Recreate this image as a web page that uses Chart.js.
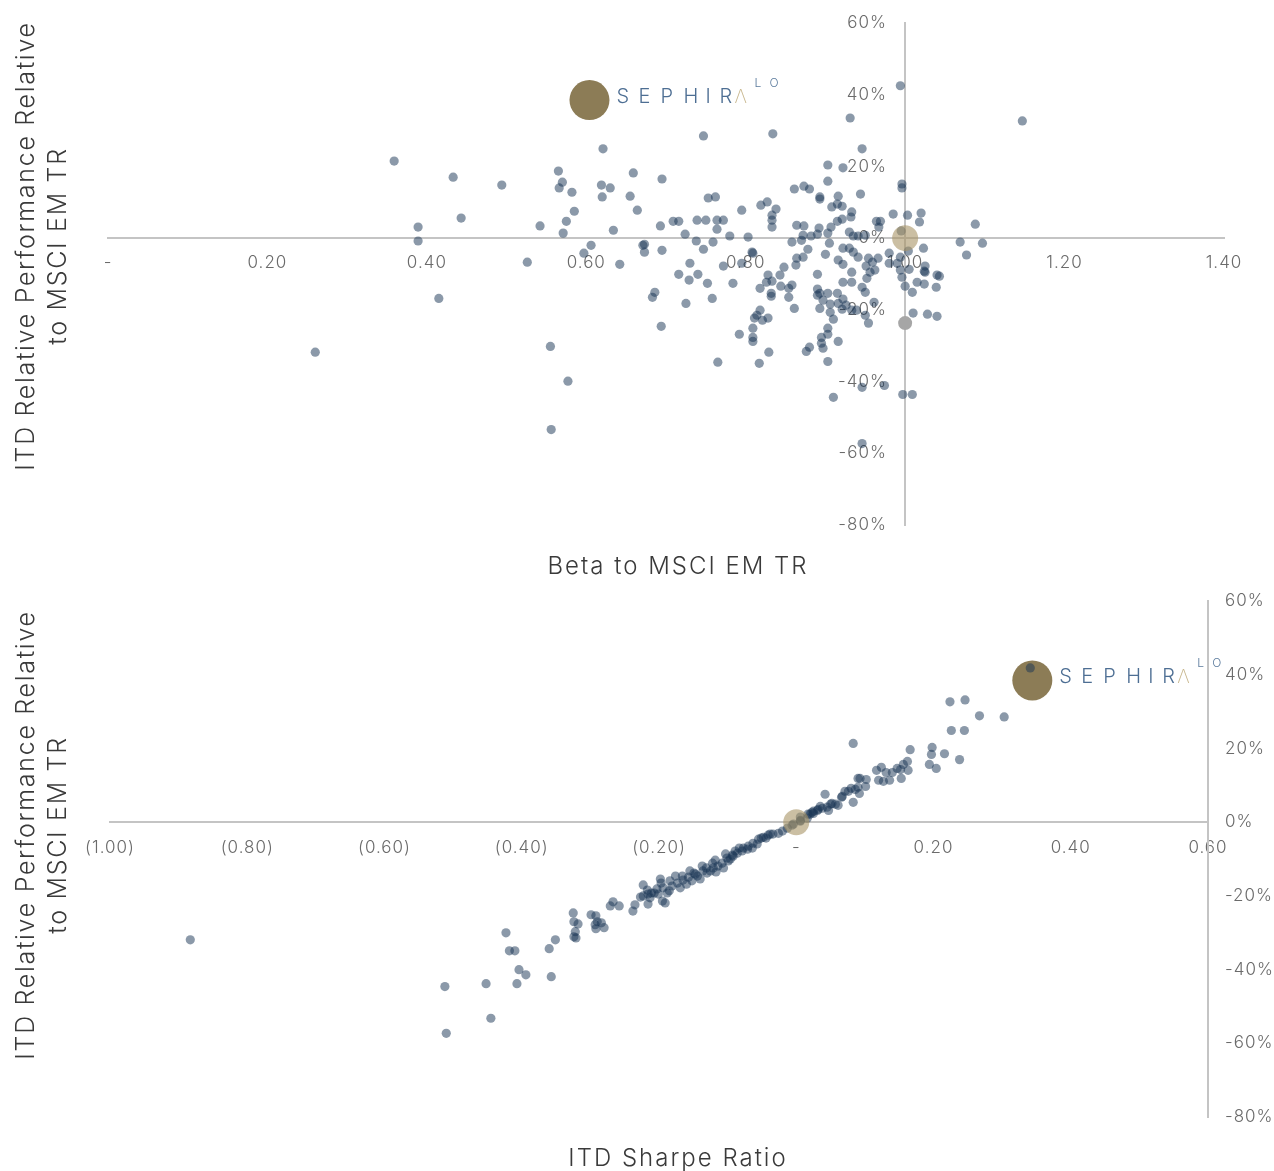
<!DOCTYPE html>
<html>
<head>
<meta charset="utf-8">
<script src="https://cdn.jsdelivr.net/npm/chart.js@4/dist/chart.umd.min.js"></script>
<style>
html,body{margin:0;padding:0;background:#fff;}
#wrap{position:relative;width:1274px;height:1171px;overflow:hidden;font-family:Inter,'Open Sans',sans-serif;}
canvas{position:absolute;left:0;}
#c1{top:0;}
#c2{top:574px;}
.ytitle{position:absolute;left:-259px;width:600px;height:64px;text-align:center;font-size:25px;line-height:32px;color:#3a3a3a;font-weight:300;transform:rotate(-90deg);white-space:nowrap;letter-spacing:1.7px;}
.xtitle{position:absolute;left:378px;width:600px;text-align:center;font-size:24px;line-height:30px;color:#3a3a3a;font-weight:300;white-space:nowrap;letter-spacing:2px;}
</style>
</head>
<body>
<div id="wrap">
<canvas id="c1" width="1274" height="590"></canvas>
<canvas id="c2" width="1274" height="597"></canvas>
<div class="ytitle" style="top:214px">ITD Relative Performance Relative<br>to MSCI EM TR</div>
<div class="xtitle" style="top:551px">Beta to MSCI EM TR</div>
<div class="ytitle" style="top:803px">ITD Relative Performance Relative<br>to MSCI EM TR</div>
<div class="xtitle" style="top:1143px">ITD Sharpe Ratio</div>
</div>
<script>
// ---------- DATA ----------
const betaTickLabels = ['-', '0.20', '0.40', '0.60', '0.80', '1.00', '1.20', '1.40'];
const sharpeTickLabels = ['(1.00)', '(0.80)', '(0.60)', '(0.40)', '(0.20)', '-', '0.20', '0.40', '0.60'];
const relPerfTickLabels = ['-80%', '-60%', '-40%', '-20%', '0%', '20%', '40%', '60%'];

// Peer funds: [beta to MSCI EM TR, ITD relative performance]
const peerBetaVsRel = [
[0.359,0.215],[0.433,0.170],[0.389,0.031],[0.389,-0.008],[0.443,0.056],[0.494,0.148],[0.526,-0.067],[0.542,0.034],[0.415,-0.168],[0.260,-0.318],
[0.555,-0.302],[0.577,-0.399],[0.556,-0.534],[0.565,0.187],[0.570,0.156],[0.566,0.140],[0.582,0.128],[0.585,0.075],[0.575,0.047],[0.571,0.014],
[0.597,-0.042],[0.606,-0.020],[0.621,0.249],[0.619,0.148],[0.630,0.140],[0.620,0.115],[0.634,0.022],[0.642,-0.073],[0.659,0.182],[0.655,0.117],
[0.664,0.078],[0.671,-0.020],[0.673,-0.039],[0.673,-0.017],[0.695,0.165],[0.693,0.034],[0.695,-0.034],[0.686,-0.151],[0.683,-0.165],[0.694,-0.246],
[0.709,0.047],[0.716,0.047],[0.724,0.011],[0.716,-0.101],[0.730,-0.070],[0.729,-0.117],[0.725,-0.182],[0.739,0.050],[0.750,0.050],[0.738,-0.008],
[0.747,-0.031],[0.747,0.285],[0.753,0.112],[0.762,0.115],[0.759,-0.011],[0.764,0.050],[0.772,0.050],[0.764,0.025],[0.740,-0.101],[0.752,-0.126],
[0.758,-0.168],[0.765,-0.346],[0.772,-0.078],[0.780,0.006],[0.803,0.003],[0.795,0.078],[0.784,-0.126],[0.795,-0.070],[0.808,-0.039],[0.809,-0.042],
[0.792,-0.268],[0.834,0.291],[0.819,0.092],[0.827,0.101],[0.838,0.081],[0.833,0.064],[0.833,0.050],[0.833,0.031],[0.861,0.137],[0.873,0.145],
[0.880,0.137],[0.864,0.036],[0.873,0.034],[0.892,0.028],[0.890,0.011],[0.882,0.006],[0.872,0.008],[0.870,-0.006],[0.858,-0.011],[0.878,-0.031],
[0.893,0.115],[0.893,0.109],[0.903,0.204],[0.922,0.196],[0.903,0.159],[0.916,0.117],[0.908,0.087],[0.915,0.095],[0.921,0.089],[0.933,0.073],
[0.932,0.059],[0.931,0.335],[0.946,0.249],[0.944,0.123],[0.907,0.031],[0.903,0.014],[0.915,0.047],[0.921,0.053],[0.930,0.017],[0.935,0.006],
[0.941,0.006],[0.950,0.008],[0.964,0.047],[0.969,0.047],[0.967,0.031],[0.985,0.067],[1.003,0.064],[1.020,0.070],[1.018,0.045],[0.995,0.020],
[0.996,0.151],[0.996,0.140],[0.994,0.425],[0.905,-0.014],[0.922,-0.028],[0.930,-0.028],[0.935,-0.039],[0.900,-0.045],[0.863,-0.075],[0.864,-0.056],
[0.872,-0.053],[0.890,-0.101],[0.916,-0.061],[0.922,-0.073],[0.933,-0.095],[0.941,-0.053],[0.951,-0.078],[0.954,-0.056],[0.959,-0.067],[0.966,-0.056],
[0.956,-0.095],[0.962,-0.089],[0.933,-0.123],[0.922,-0.123],[0.952,-0.112],[0.980,-0.042],[0.994,-0.053],[1.004,-0.036],[0.980,-0.070],[0.990,-0.070],
[1.023,-0.028],[1.005,-0.087],[1.025,-0.078],[1.024,-0.092],[0.996,-0.109],[0.994,-0.089],[1.040,-0.103],[1.043,-0.106],[1.069,-0.011],[1.088,0.039],
[1.097,-0.014],[1.077,-0.047],[1.147,0.327],[0.828,-0.103],[0.833,-0.120],[0.826,-0.123],[0.818,-0.140],[0.832,-0.154],[0.832,-0.162],[0.843,-0.103],
[0.848,-0.081],[0.844,-0.134],[0.854,-0.140],[0.858,-0.131],[0.854,-0.165],[0.861,-0.196],[0.818,-0.201],[0.814,-0.215],[0.811,-0.223],[0.821,-0.229],
[0.828,-0.223],[0.809,-0.251],[0.809,-0.277],[0.809,-0.288],[0.817,-0.349],[0.829,-0.318],[0.890,-0.142],[0.890,-0.159],[0.893,-0.154],[0.897,-0.173],
[0.893,-0.196],[0.903,-0.154],[0.906,-0.184],[0.906,-0.207],[0.910,-0.226],[0.915,-0.154],[0.916,-0.182],[0.922,-0.170],[0.921,-0.198],[0.926,-0.187],
[0.903,-0.251],[0.903,-0.268],[0.895,-0.277],[0.895,-0.293],[0.897,-0.307],[0.880,-0.304],[0.876,-0.316],[0.903,-0.344],[0.916,-0.288],[0.933,-0.201],
[0.939,-0.201],[0.950,-0.215],[0.954,-0.237],[0.961,-0.179],[0.946,-0.137],[0.950,-0.151],[1.000,-0.134],[1.009,-0.151],[1.015,-0.123],[1.024,-0.128],
[1.025,-0.095],[1.039,-0.137],[1.010,-0.209],[1.028,-0.212],[1.040,-0.218],[0.946,-0.416],[0.974,-0.411],[0.997,-0.436],[1.009,-0.436],[0.910,-0.444],
[0.946,-0.573]
];

// Peer funds: [ITD Sharpe ratio, ITD relative performance]
const peerSharpeVsRel = [
[-0.883,-0.319],[-0.512,-0.446],[-0.510,-0.573],[-0.452,-0.438],[-0.445,-0.532],[-0.423,-0.300],[-0.418,-0.349],[-0.410,-0.349],[-0.404,-0.400],[-0.394,-0.414],
[-0.407,-0.438],[-0.360,-0.343],[-0.351,-0.319],[-0.357,-0.419],[-0.325,-0.246],[-0.324,-0.270],[-0.318,-0.276],[-0.322,-0.297],[-0.324,-0.311],[-0.321,-0.314],
[-0.299,-0.251],[-0.292,-0.254],[-0.293,-0.278],[-0.290,-0.270],[-0.284,-0.273],[-0.292,-0.289],[-0.280,-0.286],[-0.271,-0.227],[-0.267,-0.216],[-0.258,-0.227],
[-0.238,-0.241],[-0.235,-0.224],[-0.227,-0.203],[-0.223,-0.170],[-0.216,-0.195],[-0.216,-0.222],[-0.217,-0.184],[-0.213,-0.205],[-0.207,-0.192],[-0.201,-0.195],
[-0.195,-0.214],[-0.191,-0.219],[-0.198,-0.154],[-0.197,-0.165],[-0.203,-0.181],[-0.184,-0.159],[-0.185,-0.186],[-0.176,-0.146],[-0.173,-0.165],[-0.169,-0.178],
[-0.165,-0.157],[-0.157,-0.149],[-0.155,-0.132],[-0.149,-0.138],[-0.144,-0.146],[-0.137,-0.119],[-0.136,-0.132],[-0.140,-0.154],[-0.125,-0.132],[-0.118,-0.103],
[-0.121,-0.124],[-0.114,-0.119],[-0.108,-0.111],[-0.106,-0.124],[-0.101,-0.097],[-0.099,-0.105],[-0.093,-0.089],[-0.089,-0.078],[-0.083,-0.070],[-0.077,-0.070],
[-0.071,-0.073],[-0.063,-0.057],[-0.055,-0.046],[-0.048,-0.041],[-0.041,-0.035],[-0.034,-0.032],[-0.026,-0.030],[-0.013,-0.016],[-0.004,-0.005],[0.006,0.005],
[0.016,0.011],[0.025,0.030],[-0.223,-0.200],[-0.211,-0.192],[-0.194,-0.178],[-0.188,-0.192],[-0.181,-0.173],[-0.166,-0.146],[-0.160,-0.168],[-0.152,-0.159],
[-0.147,-0.141],[-0.131,-0.124],[-0.130,-0.138],[-0.122,-0.111],[-0.117,-0.135],[-0.103,-0.086],[-0.096,-0.100],[-0.092,-0.092],[-0.086,-0.084],[-0.079,-0.078],
[-0.070,-0.065],[-0.064,-0.070],[-0.057,-0.059],[-0.051,-0.043],[-0.044,-0.043],[-0.038,-0.032],[-0.020,-0.024],[-0.006,-0.008],[0.006,0.003],[0.020,0.022],
[0.032,0.035],[0.224,0.327],[0.246,0.332],[0.267,0.289],[0.303,0.286],[0.226,0.249],[0.245,0.249],[0.198,0.203],[0.197,0.184],[0.216,0.186],
[0.238,0.170],[0.166,0.197],[0.194,0.157],[0.204,0.146],[0.162,0.165],[0.163,0.141],[0.156,0.157],[0.152,0.143],[0.153,0.119],[0.147,0.146],
[0.140,0.135],[0.131,0.135],[0.124,0.149],[0.117,0.141],[0.120,0.114],[0.127,0.111],[0.136,0.114],[0.083,0.214],[0.090,0.119],[0.093,0.119],
[0.102,0.116],[0.101,0.097],[0.090,0.095],[0.092,0.078],[0.083,0.054],[0.080,0.092],[0.071,0.084],[0.066,0.068],[0.042,0.076],[0.057,0.049],
[0.050,0.049],[0.045,0.041],[0.038,0.038],[0.031,0.032],[0.025,0.024],[0.047,0.032],[0.061,0.046],[0.006,0.014],[0.017,0.022],[0.023,0.027],
[0.035,0.043],[0.052,0.051],[0.067,0.070],[0.076,0.084],[0.086,0.089],[0.341,0.419]
];

// Sephira fund
const sephiraBeta = [0.604];
const sephiraSharpe = [0.344];
const sephiraRel = [0.385];
// Benchmark MSCI EM TR
const benchBeta = [1.0];
const benchSharpe = [0.0];
const benchRel = [0.0];
// Reference point on beta chart
const refBeta = [1.0];
const refRel = [-0.237];

// ---------- STYLE ----------
const TICK_FONT = {family: 'Inter', size: 17, weight: '300'};
const TICK_COLOR = '#6b6b6b';
const AXIS_COLOR = '#c4c4c4';
const DOT = 'rgba(24,52,84,0.5)';
const DOT_R = 4.6;

function labelFrom(labels, min, step) {
  return function(value) {
    const i = Math.round((value - min) / step);
    return labels[i] !== undefined ? labels[i] : '';
  };
}

const spacingPlugin = {
  id: 'letterSpacing',
  beforeDraw(chart) { try { chart.ctx.letterSpacing = '1px'; } catch (e) {} }
};

const logoPlugin = {
  id: 'sephiraLogo',
  afterDatasetsDraw(chart, args, opts) {
    const meta = chart.getDatasetMeta(opts.datasetIndex);
    if (!meta || !meta.data.length) return;
    const pt = meta.data[0];
    const ctx = chart.ctx;
    ctx.save();
    try { ctx.letterSpacing = '0px'; } catch (e) {}
    ctx.textBaseline = 'middle';
    ctx.textAlign = 'left';
    ctx.font = '300 20px Inter';
    const letters = ['S','E','P','H','I','R'];
    const offs = [0, 22, 44, 67, 89, 103];
    const x0 = pt.x + 27, y0 = pt.y - 3;
    ctx.fillStyle = '#4d6e93';
    letters.forEach((ch, i) => ctx.fillText(ch, x0 + offs[i], y0));
    ctx.fillStyle = '#c8b78e';
    ctx.font = '200 19px Inter';
    ctx.fillText('\u039B', x0 + 118, y0);
    ctx.font = '300 12px Inter';
    ctx.fillStyle = '#5b7b9d';
    ctx.fillText('L', pt.x + 165, pt.y - 17);
    ctx.fillText('O', pt.x + 180, pt.y - 17);
    ctx.restore();
  }
};

function toPts(xs, ys) { return xs.map((x, i) => ({x: x, y: ys[i]})); }

// ---------- CHART 1: Beta ----------
new Chart(document.getElementById('c1'), {
  type: 'scatter',
  plugins: [spacingPlugin, logoPlugin],
  data: {
    datasets: [
      {label: 'MSCI EM TR', data: toPts(benchBeta, benchRel), pointRadius: 13, pointHoverRadius: 13,
       backgroundColor: 'rgba(168,148,102,0.6)', borderWidth: 0, order: 0},
      {label: 'Reference', data: toPts(refBeta, refRel), pointRadius: 7, pointHoverRadius: 7,
       backgroundColor: '#a6a6a6', borderWidth: 0, order: 0},
      {label: 'Peers', data: peerBetaVsRel.map(p => ({x: p[0], y: p[1]})), pointRadius: DOT_R, pointHoverRadius: DOT_R,
       backgroundColor: DOT, borderWidth: 0, order: 1},
      {label: 'Sephira', data: toPts(sephiraBeta, sephiraRel), pointRadius: 20, pointHoverRadius: 20,
       backgroundColor: '#8c7c56', borderWidth: 0, order: 2}
    ]
  },
  options: {
    responsive: false, animation: false,
    layout: {padding: {left: 108, right: 50, top: 23, bottom: 65}},
    plugins: {legend: {display: false}, tooltip: {enabled: false}, sephiraLogo: {datasetIndex: 3}},
    scales: {
      x: {type: 'linear', min: 0, max: 1.4, position: {y: 0},
          grid: {display: false, drawTicks: false},
          border: {display: true, color: AXIS_COLOR, width: 2},
          ticks: {stepSize: 0.2, padding: 15, maxRotation: 0, autoSkip: false, color: TICK_COLOR, font: TICK_FONT,
                  callback: labelFrom(betaTickLabels, 0, 0.2)}},
      y: {type: 'linear', min: -0.8, max: 0.6, position: {x: 1},
          grid: {display: false, drawTicks: false},
          border: {display: true, color: AXIS_COLOR, width: 2},
          ticks: {display: false, stepSize: 0.2}},
      yLabels: {type: 'linear', axis: 'y', min: -0.8, max: 0.6, position: {x: 0.977},
          grid: {display: false, drawTicks: false},
          border: {display: false},
          ticks: {stepSize: 0.2, padding: 0, color: TICK_COLOR, font: TICK_FONT,
                  callback: labelFrom(relPerfTickLabels, -0.8, 0.2)}}
    }
  }
});

// ---------- CHART 2: Sharpe ----------
new Chart(document.getElementById('c2'), {
  type: 'scatter',
  plugins: [spacingPlugin, logoPlugin],
  data: {
    datasets: [
      {label: 'MSCI EM TR', data: toPts(benchSharpe, benchRel), pointRadius: 13, pointHoverRadius: 13,
       backgroundColor: 'rgba(168,148,102,0.6)', borderWidth: 0, order: 0},
      {label: 'Peers', data: peerSharpeVsRel.map(p => ({x: p[0], y: p[1]})), pointRadius: DOT_R, pointHoverRadius: DOT_R,
       backgroundColor: DOT, borderWidth: 0, order: 1},
      {label: 'Sephira', data: toPts(sephiraSharpe, sephiraRel), pointRadius: 20, pointHoverRadius: 20,
       backgroundColor: '#8c7c56', borderWidth: 0, order: 2}
    ]
  },
  options: {
    responsive: false, animation: false,
    layout: {padding: {left: 110, right: 0, top: 26, bottom: 54}},
    plugins: {legend: {display: false}, tooltip: {enabled: false}, sephiraLogo: {datasetIndex: 2}},
    scales: {
      x: {type: 'linear', min: -1, max: 0.6, position: {y: 0},
          grid: {display: false, drawTicks: false},
          border: {display: true, color: AXIS_COLOR, width: 2},
          ticks: {stepSize: 0.2, padding: 15, maxRotation: 0, autoSkip: false, color: TICK_COLOR, font: TICK_FONT,
                  callback: labelFrom(sharpeTickLabels, -1, 0.2)}},
      y: {type: 'linear', min: -0.8, max: 0.6, position: 'right',
          afterFit: function(s) { s.width = 66; },
          grid: {display: false, drawTicks: false},
          border: {display: true, color: AXIS_COLOR, width: 2},
          ticks: {stepSize: 0.2, padding: 17, color: TICK_COLOR, font: TICK_FONT,
                  callback: labelFrom(relPerfTickLabels, -0.8, 0.2)}}
    }
  }
});
</script>
</body>
</html>
